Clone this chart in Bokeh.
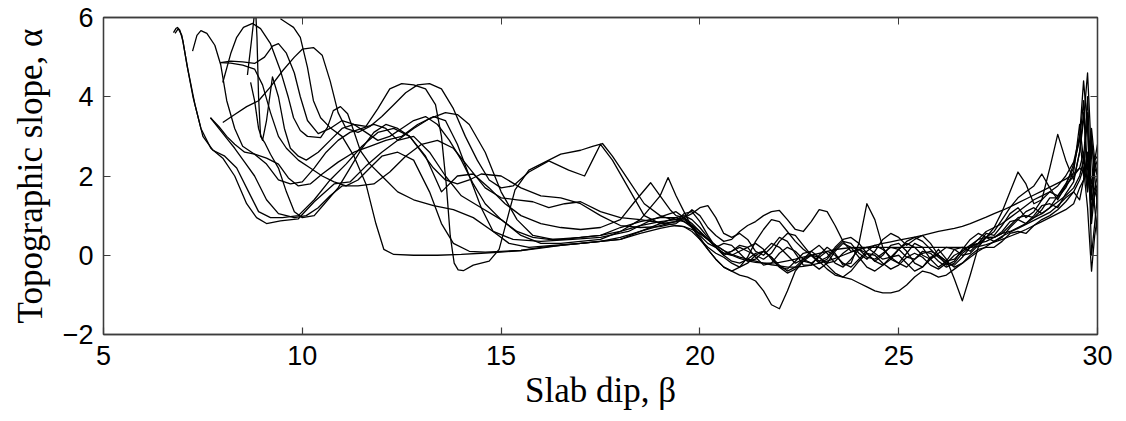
from bokeh.plotting import figure
from bokeh.models import LinearAxis, Range1d, FixedTicker, ColumnDataSource, CustomJSTickFormatter
from bokeh.embed import file_html
from bokeh.resources import INLINE

X_TICKS = [5, 10, 15, 20, 25, 30]
Y_TICKS = [-2, 0, 2, 4, 6]
Y_TICK_LABELS = {-2: "\u22122", 0: "0", 2: "2", 4: "4", 6: "6"}
X_LABEL = "Slab dip, \u03b2"
Y_LABEL = "Topographic slope, \u03b1"

# shared x positions for the right (noisy) part of every profile
RX = [19.4, 19.6, 19.8, 20.0, 20.2, 20.4, 20.6, 20.8, 21.0, 21.2,
      21.4, 21.6, 21.8, 22.0, 22.2, 22.4, 22.6, 22.8, 23.0, 23.2,
      23.4, 23.6, 23.8, 24.0, 24.2, 24.4, 24.6, 24.8, 25.0, 25.2,
      25.4, 25.6, 25.8, 26.0, 26.2, 26.4, 26.6, 26.8, 27.0, 27.2,
      27.4, 27.6, 27.8, 28.0, 28.2, 28.4, 28.6, 28.8, 29.0, 29.2,
      29.4, 29.55, 29.65, 29.75, 29.85, 29.93, 30.0]

A_LEFT = [(6.76, 5.62), (6.82, 5.72), (6.86, 5.75), (6.92, 5.68), (7.0, 5.4), (7.1, 4.8), (7.25, 4.0),
          (7.45, 3.2), (7.7, 2.7), (8.0, 2.45), (8.3, 2.0), (8.6, 1.3), (8.85, 0.95), (9.1, 0.8),
          (9.45, 0.87), (9.9, 0.92), (10.3, 1.35), (10.8, 1.8), (11.2, 1.85), (11.6, 2.25), (12.0, 2.6),
          (12.4, 2.9), (12.8, 3.2), (13.2, 3.45), (13.6, 3.6), (13.9, 3.55), (14.2, 3.3), (14.6, 2.6),
          (15.0, 1.6), (15.4, 0.9), (15.8, 0.5), (16.3, 0.4), (17.0, 0.45), (17.5, 0.5), (18.0, 0.7),
          (18.5, 0.85), (19.0, 0.95), (19.25, 0.95)]
A_R = [0.95, 1.0, 0.9, 0.7, 0.45, 0.2, 0.0, -0.15, -0.2, -0.1,
       0.05, 0.1, -0.05, -0.3, -0.35, -0.15, 0.05, 0.1, -0.05, -0.2,
       -0.15, 0.05, 0.2, 0.15, -0.05, -0.1, 0.05, 0.2, 0.15, -0.05,
       -0.1, 0.05, 0.1, 0.0, -0.15, -0.1, 0.1, 0.25, 0.3, 0.35,
       0.45, 0.55, 0.6, 0.7, 0.8, 0.95, 1.05, 1.2, 1.35, 1.5,
       1.7, 2.0, 2.4, 1.6, 2.8, 2.2, 2.0]

B_LEFT = [(7.24, 5.15), (7.35, 5.55), (7.45, 5.67), (7.6, 5.6), (7.8, 5.3), (7.95, 4.8), (8.1, 3.9),
          (8.3, 3.2), (8.5, 2.75), (8.8, 2.55), (9.1, 2.45), (9.4, 2.3), (9.65, 1.95), (9.9, 1.75),
          (10.2, 1.8), (10.5, 2.05), (10.9, 2.35), (11.3, 2.6), (11.7, 2.75), (12.1, 2.9), (12.5, 3.0),
          (12.9, 3.3), (13.3, 3.5), (13.6, 3.4), (13.9, 2.8), (14.2, 2.0), (14.5, 1.2), (14.8, 0.6),
          (15.2, 0.3), (15.7, 0.2), (16.3, 0.25), (17.0, 0.3), (17.5, 0.35), (18.0, 0.45), (18.5, 0.6),
          (19.0, 0.75), (19.25, 0.82)]
B_R = [0.85, 1.05, 1.1, 0.85, 0.5, 0.2, 0.0, 0.1, 0.2, 0.1,
       0.0, -0.1, 0.05, 0.35, 0.55, 0.5, 0.25, 0.0, -0.2, -0.1,
       0.15, 0.35, 0.3, 0.05, -0.1, 0.1, 0.4, 0.55, 0.45, 0.25,
       0.4, 0.5, 0.3, 0.0, -0.25, -0.15, 0.15, 0.4, 0.55, 0.45,
       0.45, 0.6, 0.85, 0.9, 0.8, 1.0, 1.25, 1.3, 1.2, 1.55,
       1.85, 2.6, 3.6, 2.2, 1.0, 2.2, 2.4]

C_LEFT = [(7.69, 3.47), (7.9, 3.2), (8.1, 2.95), (8.3, 2.7), (8.55, 2.35), (8.8, 2.0), (9.1, 1.4),
          (9.4, 1.05), (9.8, 0.95), (10.1, 1.0), (10.4, 1.2), (10.7, 1.5), (11.0, 1.75), (11.4, 1.75),
          (11.8, 1.8), (12.2, 2.1), (12.6, 2.5), (13.0, 2.8), (13.4, 2.9), (13.8, 2.7), (14.2, 2.2),
          (14.6, 1.7), (15.0, 1.45), (15.4, 1.4), (15.8, 1.35), (16.2, 1.2), (16.6, 1.3), (17.0, 1.35),
          (17.5, 1.1), (18.0, 0.95), (18.5, 0.9), (19.0, 0.82), (19.25, 0.78)]
C_R = [0.75, 0.72, 0.65, 0.55, 0.4, 0.25, 0.12, 0.02, -0.05, -0.1,
       -0.15, -0.2, -0.24, -0.27, -0.3, -0.3, -0.28, -0.25, -0.2, -0.15,
       -0.08, 0.0, 0.08, 0.15, 0.2, 0.25, 0.3, 0.34, 0.38, 0.42,
       0.46, 0.5, 0.55, 0.6, 0.64, 0.68, 0.73, 0.8, 0.88, 0.96,
       1.05, 1.13, 1.22, 1.32, 1.42, 1.52, 1.62, 1.72, 1.82, 1.92,
       2.05, 2.2, 2.1, 2.3, 1.8, 2.4, 2.5]

D_LEFT = [(7.94, 4.86), (8.2, 4.9), (8.5, 4.88), (8.8, 4.84), (9.05, 5.0), (9.25, 5.28), (9.4, 5.34),
          (9.6, 5.1), (9.8, 4.6), (9.95, 4.0), (10.13, 3.4), (10.4, 3.07), (10.7, 3.2), (11.0, 3.4),
          (11.3, 3.3), (11.6, 3.25), (11.9, 3.7), (12.2, 4.2), (12.5, 4.33), (12.8, 4.3), (13.1, 4.2),
          (13.35, 3.8), (13.5, 3.0), (13.62, 1.8), (13.72, 0.5), (13.82, -0.2), (13.92, -0.37),
          (14.05, -0.39), (14.3, -0.25), (14.7, -0.15), (14.95, 0.15), (15.15, 0.9), (15.35, 1.65),
          (15.7, 2.15), (16.1, 2.35), (16.5, 2.55), (17.0, 2.65), (17.3, 2.75), (17.55, 2.82), (17.8, 2.5),
          (18.2, 1.9), (18.6, 1.3), (19.0, 1.0), (19.25, 0.92)]
D_R = [0.9, 0.95, 1.05, 1.2, 1.25, 0.95, 0.55, 0.45, 0.55, 0.4,
       0.1, 0.0, 0.2, 0.45, 0.35, 0.05, -0.25, -0.25, 0.0, 0.2,
       0.05, -0.25, -0.2, 0.3, 1.3, 0.9, 0.2, -0.1, -0.2, 0.05,
       0.3, 0.2, -0.1, -0.3, -0.15, 0.15, 0.2, 0.1, 0.3, 0.55,
       0.5, 0.75, 1.05, 1.2, 0.95, 1.1, 1.4, 1.6, 1.5, 1.8,
       2.2, 3.0, 4.4, 3.2, 0.8, 1.6, 1.8]

E_LEFT = [(8.0, 4.36), (8.2, 5.09), (8.35, 5.5), (8.52, 5.75), (8.75, 5.85), (8.95, 5.72), (9.2, 5.34),
          (9.45, 4.66), (9.65, 3.98), (9.78, 3.47), (9.95, 3.15), (10.13, 3.0), (10.46, 2.97),
          (10.63, 3.22), (10.78, 3.65), (10.96, 3.75), (11.14, 3.57), (11.29, 3.15), (11.46, 2.64),
          (11.7, 2.3), (12.0, 2.0), (12.4, 1.6), (12.8, 1.4), (13.3, 1.25), (13.8, 1.15), (14.3, 0.95),
          (14.8, 0.6), (15.3, 0.4), (16.0, 0.35), (16.8, 0.4), (17.5, 0.45), (18.2, 0.6), (18.8, 0.9),
          (19.25, 1.05)]
E_R = [1.1, 0.95, 0.7, 0.45, 0.15, -0.1, -0.3, -0.4, -0.5, -0.55,
       -0.65, -0.9, -1.25, -1.35, -0.9, -0.4, -0.15, -0.2, -0.35, -0.2,
       0.1, 0.3, 0.2, -0.05, -0.3, -0.4, -0.25, -0.05, 0.0, -0.2,
       -0.4, -0.3, -0.05, 0.0, -0.15, -0.3, -0.2, 0.0, 0.15, 0.2,
       0.2, 0.35, 0.55, 0.6, 0.55, 0.75, 0.9, 1.0, 1.15, 1.35,
       1.6, 1.4, 1.9, 2.5, 1.2, 1.5, 1.7]

F_LEFT = [(8.62, 4.55), (8.72, 5.4), (8.82, 6.3), (8.86, 5.5), (8.9, 4.0), (8.95, 3.0), (9.05, 2.85),
          (9.2, 2.55), (9.4, 2.2), (9.6, 1.6), (9.8, 1.1), (10.0, 0.95), (10.3, 1.0), (10.6, 1.35),
          (10.9, 1.7), (11.2, 2.2), (11.5, 2.7), (11.8, 3.1), (12.1, 3.3), (12.4, 3.2), (12.7, 3.0),
          (13.0, 2.6), (13.3, 2.2), (13.6, 1.9), (13.9, 1.8), (14.2, 1.9), (14.5, 2.05), (15.0, 2.0),
          (15.5, 1.7), (16.0, 1.5), (16.5, 1.45), (17.0, 1.3), (17.5, 1.0), (18.0, 0.75), (18.5, 0.7),
          (19.0, 0.72), (19.25, 0.78)]
F_R = [0.8, 0.95, 1.15, 1.0, 0.7, 0.5, 0.35, 0.4, 0.6, 0.75,
       0.85, 1.0, 1.1, 1.13, 0.9, 0.65, 0.6, 0.85, 1.15, 1.1,
       0.75, 0.35, 0.1, 0.15, 0.2, 0.05, -0.1, -0.05, 0.15, 0.3,
       0.2, 0.0, -0.1, 0.05, 0.2, 0.15, 0.0, 0.05, 0.25, 0.45,
       0.45, 0.55, 0.75, 0.95, 1.0, 0.95, 1.15, 1.45, 1.45, 1.7,
       2.1, 3.3, 2.4, 4.0, 1.5, 2.4, 2.8]

G_LEFT = [(9.45, 5.97), (9.63, 5.85), (9.78, 5.75), (9.95, 5.5), (10.13, 4.74), (10.28, 3.9),
          (10.46, 3.47), (10.7, 3.22), (11.0, 3.0), (11.3, 2.5), (11.6, 1.8), (11.85, 0.8), (12.05, 0.15),
          (12.3, 0.02), (12.8, 0.0), (13.4, 0.0), (14.0, 0.02), (14.5, 0.05), (15.0, 0.08), (15.5, 0.12),
          (16.0, 0.18), (16.5, 0.25), (17.0, 0.3), (17.5, 0.35), (18.0, 0.4), (18.5, 0.55), (19.0, 0.68),
          (19.25, 0.73)]
G_R = [0.75, 0.72, 0.6, 0.4, 0.2, 0.05, -0.05, -0.2, -0.3, -0.2,
       0.0, 0.1, -0.05, -0.25, -0.4, -0.3, -0.1, 0.0, -0.15, -0.35,
       -0.5, -0.55, -0.6, -0.7, -0.8, -0.9, -0.95, -0.95, -0.9, -0.75,
       -0.55, -0.4, -0.45, -0.55, -0.5, -0.35, -0.2, -0.05, 0.1, 0.22,
       0.35, 0.48, 0.58, 0.68, 0.78, 0.88, 0.98, 1.08, 1.25, 1.45,
       1.6, 1.9, 2.2, 1.2, -0.4, 0.5, 1.0]

H_LEFT = [(8.0, 3.35), (8.3, 3.55), (8.6, 3.75), (8.9, 3.9), (9.2, 4.25), (9.5, 4.65), (9.8, 5.0),
          (10.0, 5.2), (10.28, 5.24), (10.5, 5.05), (10.7, 4.4), (10.9, 3.6), (11.1, 3.2), (11.4, 3.1),
          (11.7, 3.25), (12.0, 3.5), (12.3, 3.8), (12.6, 4.1), (12.9, 4.3), (13.2, 4.33), (13.5, 4.2),
          (13.8, 3.7), (14.1, 3.0), (14.4, 2.4), (14.7, 1.9), (15.0, 1.7), (15.3, 1.75), (15.7, 2.1),
          (16.2, 2.38), (16.7, 2.15), (17.1, 2.0), (17.3, 2.4), (17.5, 2.8), (17.8, 2.4), (18.2, 1.7),
          (18.6, 1.0), (19.0, 0.8), (19.25, 0.83)]
H_R = [0.85, 0.9, 0.75, 0.5, 0.3, 0.2, 0.3, 0.25, 0.05, -0.15,
       -0.1, 0.1, 0.3, 0.2, 0.0, -0.2, -0.1, 0.1, 0.25, 0.05,
       -0.2, -0.3, -0.1, 0.15, 0.05, -0.15, 0.0, 0.25, 0.3, 0.1,
       -0.2, -0.3, -0.1, 0.15, -0.1, -0.6, -1.15, -0.5, 0.2, 0.45,
       0.6, 0.9, 1.2, 1.45, 1.6, 1.75, 2.05, 1.7, 1.4, 1.75,
       2.3, 2.9, 3.9, 1.7, 3.2, 2.4, 2.0]

I_LEFT = [(8.7, 4.36), (8.8, 3.9), (8.9, 3.2), (9.0, 2.9), (9.1, 3.4), (9.25, 4.5), (9.4, 4.0),
          (9.55, 3.2), (9.7, 2.7), (9.9, 2.5), (10.1, 2.4), (10.4, 2.6), (10.7, 2.9), (11.0, 3.2),
          (11.3, 3.3), (11.6, 3.1), (11.9, 2.9), (12.2, 3.0), (12.5, 3.2), (12.8, 3.4), (13.1, 3.5),
          (13.4, 3.3), (13.7, 2.9), (14.0, 2.4), (14.3, 1.8), (14.6, 1.3), (15.0, 0.9), (15.4, 0.6),
          (15.8, 0.45), (16.2, 0.4), (16.6, 0.4), (17.0, 0.45), (17.5, 0.5), (18.0, 0.6), (18.5, 0.75),
          (19.0, 0.85), (19.25, 0.88)]
I_R = [0.9, 0.85, 0.75, 0.6, 0.4, 0.2, 0.05, 0.1, 0.25, 0.2,
       -0.05, -0.25, -0.2, 0.05, 0.2, 0.1, -0.1, -0.2, -0.05, 0.1,
       0.0, -0.2, -0.3, -0.1, 0.1, 0.25, 0.15, -0.05, -0.2, -0.3,
       -0.1, 0.1, 0.05, -0.15, -0.3, -0.2, 0.05, 0.2, 0.3, 0.45,
       0.7, 1.1, 1.6, 2.1, 1.8, 1.3, 1.4, 2.2, 3.05, 2.4,
       1.9, 2.6, 3.4, 4.6, 2.5, 1.2, 0.5]

J_LEFT = [(6.8, 5.6), (6.88, 5.72), (6.97, 5.55), (7.12, 4.7), (7.3, 3.8), (7.5, 3.0), (7.75, 2.65),
          (8.05, 2.5), (8.35, 2.2), (8.65, 1.6), (8.9, 1.1), (9.2, 0.95), (9.5, 0.95), (9.9, 1.0),
          (10.3, 1.4), (10.7, 1.9), (11.1, 2.3), (11.5, 2.75), (11.9, 3.1), (12.3, 3.2), (12.7, 3.0),
          (13.1, 2.5), (13.5, 1.6), (13.9, 2.0), (14.3, 2.05), (14.7, 1.7), (15.1, 1.3), (15.5, 1.0),
          (16.0, 0.8), (16.5, 0.7), (17.0, 0.65), (17.5, 0.7), (18.0, 0.9), (18.4, 1.4), (18.76, 1.83),
          (19.0, 1.5), (19.25, 1.15)]
J_R = [1.0, 0.95, 0.8, 0.6, 0.4, 0.2, 0.05, 0.0, 0.1, 0.2,
       0.3, 0.15, -0.1, -0.3, -0.45, -0.35, -0.15, 0.0, -0.05, -0.25,
       -0.45, -0.55, -0.4, -0.15, 0.05, 0.0, -0.2, -0.35, -0.25, -0.05,
       0.05, -0.05, -0.25, -0.35, -0.2, 0.0, 0.1, 0.25, 0.4, 0.6,
       0.7, 0.8, 0.95, 1.1, 1.25, 1.4, 1.5, 1.6, 1.75, 2.0,
       2.35, 3.0, 2.0, 3.6, 0.0, 0.8, 1.5]

K_LEFT = [(7.69, 3.47), (7.9, 3.25), (8.1, 3.0), (8.3, 2.8), (8.55, 2.6), (8.8, 2.55), (9.1, 2.3),
          (9.4, 1.9), (9.7, 1.8), (10.0, 1.85), (10.3, 2.2), (10.6, 2.6), (10.9, 2.9), (11.2, 3.1),
          (11.5, 3.2), (11.8, 3.3), (12.1, 3.2), (12.4, 2.9), (12.8, 3.0), (13.2, 2.6), (13.6, 2.0),
          (14.0, 1.5), (14.5, 1.2), (15.0, 0.9), (15.5, 0.5), (16.0, 0.3), (16.5, 0.3), (17.0, 0.35),
          (17.5, 0.4), (18.0, 0.6), (18.5, 0.9), (19.0, 1.5), (19.2, 1.96)]
K_R = [1.5, 1.1, 0.7, 0.4, 0.15, -0.1, -0.3, -0.4, -0.3, -0.05,
       0.35, 0.65, 0.9, 0.85, 0.6, 0.35, 0.15, 0.0, -0.15, -0.05,
       0.2, 0.4, 0.45, 0.3, 0.05, -0.15, -0.25, -0.1, 0.15, 0.35,
       0.45, 0.35, 0.15, -0.05, -0.2, -0.25, -0.05, 0.2, 0.4, 0.45,
       0.35, 0.45, 0.7, 0.9, 1.1, 1.2, 1.05, 1.2, 1.5, 1.75,
       2.0, 2.2, 2.6, 1.8, 3.0, 2.0, 1.2]

L_LEFT = [(7.94, 4.86), (8.2, 4.85), (8.5, 4.8), (8.8, 4.7), (9.0, 4.3), (9.2, 3.6), (9.4, 3.0),
          (9.6, 2.7), (9.9, 2.4), (10.2, 2.2), (10.5, 2.0), (10.8, 1.85), (11.1, 1.75), (11.4, 1.9),
          (11.7, 2.2), (12.0, 2.5), (12.4, 2.6), (12.8, 2.4), (13.2, 1.6), (13.5, 0.8), (13.8, 0.3),
          (14.2, 0.1), (14.6, 0.08), (15.0, 0.1), (15.5, 0.12), (16.0, 0.2), (16.5, 0.25), (17.0, 0.3),
          (17.5, 0.35), (18.0, 0.4), (18.5, 0.6), (19.0, 0.8), (19.25, 0.9)]
L_R = [0.95, 0.85, 0.7, 0.55, 0.4, 0.25, 0.12, 0.0, -0.08, -0.14,
       -0.18, -0.2, -0.2, -0.18, -0.14, -0.1, -0.05, 0.0, 0.05, 0.1,
       0.14, 0.17, 0.19, 0.2, 0.2, 0.2, 0.2, 0.2, 0.2, 0.2,
       0.2, 0.2, 0.2, 0.2, 0.2, 0.2, 0.2, 0.2, 0.22, 0.27,
       0.33, 0.4, 0.48, 0.56, 0.65, 0.75, 0.85, 0.95, 1.05, 1.15,
       1.3, 1.7, 1.9, 2.6, 1.4, 1.7, 2.0]

PROFILES = [(A_LEFT, A_R), (B_LEFT, B_R), (C_LEFT, C_R), (D_LEFT, D_R), (E_LEFT, E_R), (F_LEFT, F_R),
            (G_LEFT, G_R), (H_LEFT, H_R), (I_LEFT, I_R), (J_LEFT, J_R), (K_LEFT, K_R), (L_LEFT, L_R)]

xs, ys = [], []
for left, right in PROFILES:
    n = min(len(RX), len(right))
    xs.append([pt[0] for pt in left] + RX[:n])
    ys.append([pt[1] for pt in left] + right[:n])

AXIS_COLOR = "#3c3c3c"
TICK_FONT = "Liberation Sans"
LABEL_FONT = "Liberation Serif"

p = figure(width=1126, height=421, output_backend="svg", toolbar_location=None,
           x_range=Range1d(5, 30), y_range=Range1d(-2, 6),
           min_border_left=103, min_border_right=29, min_border_top=17, min_border_bottom=87)
p.background_fill_color = "white"
p.border_fill_color = "white"
p.outline_line_color = AXIS_COLOR
p.outline_line_width = 1.3
p.grid.visible = False

src = ColumnDataSource(data=dict(xs=xs, ys=ys))
p.multi_line(xs="xs", ys="ys", source=src, line_color="black", line_width=1.3, line_join="round")

for ax, ticks in ((p.xaxis[0], X_TICKS), (p.yaxis[0], Y_TICKS)):
    ax.ticker = FixedTicker(ticks=ticks)
    ax.major_tick_in = 7
    ax.major_tick_out = 0
    ax.minor_tick_line_color = None
    ax.axis_line_color = AXIS_COLOR
    ax.axis_line_width = 1.3
    ax.major_tick_line_color = AXIS_COLOR
    ax.major_tick_line_width = 1.2
    ax.major_label_text_font = TICK_FONT
    ax.major_label_text_font_size = "27px"
    ax.major_label_text_color = "black"
    ax.axis_label_text_font = LABEL_FONT
    ax.axis_label_text_font_size = "35px"
    ax.axis_label_text_font_style = "normal"
    ax.axis_label_text_color = "black"

p.xaxis[0].axis_label = X_LABEL
p.xaxis[0].major_label_standoff = 11
p.xaxis[0].axis_label_standoff = 3
p.yaxis[0].axis_label = Y_LABEL
p.yaxis[0].major_label_standoff = 10
p.yaxis[0].axis_label_standoff = 10
p.yaxis[0].major_label_overrides = Y_TICK_LABELS

blank = "return ''"
top = LinearAxis(ticker=FixedTicker(ticks=X_TICKS), formatter=CustomJSTickFormatter(code=blank),
                 major_tick_in=7, major_tick_out=0, minor_tick_line_color=None,
                 axis_line_color=AXIS_COLOR, axis_line_width=1.3, major_tick_line_color=AXIS_COLOR,
                 major_label_standoff=0)
right = LinearAxis(ticker=FixedTicker(ticks=Y_TICKS), formatter=CustomJSTickFormatter(code=blank),
                   major_tick_in=7, major_tick_out=0, minor_tick_line_color=None,
                   axis_line_color=AXIS_COLOR, axis_line_width=1.3, major_tick_line_color=AXIS_COLOR,
                   major_label_standoff=0)
p.add_layout(top, "above")
p.add_layout(right, "right")

open("out.html", "w").write(file_html(p, INLINE))
